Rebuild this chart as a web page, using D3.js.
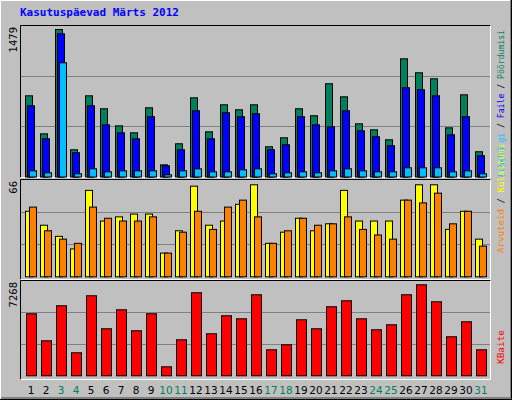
<!DOCTYPE html>
<html><head><meta charset="utf-8">
<script src="https://cdn.jsdelivr.net/npm/d3@7"></script>
<style>body{margin:0;background:#fff}</style></head>
<body><script>
const days = d3.range(1,32);
const weekend = [3,4,10,11,17,18,24,25,31];
const hits  = [814,433,1479,273,814,684,513,443,694,122,333,794,453,724,674,724,303,393,684,614,935,804,533,473,373,1185,1045,985,493,824,253];
const files = [714,383,1436,243,714,523,443,383,604,112,273,664,383,644,604,634,273,323,604,523,503,664,463,403,313,895,875,814,423,604,213];
const pages = [62,42,1145,32,82,52,62,62,62,22,62,82,52,52,72,82,32,42,52,42,62,82,62,52,52,92,92,92,52,62,32];
const visits= [47,37,29,20,62,40,43,45,45,17,33,65,37,40,52,66,24,32,42,33,38,62,40,40,40,55,66,66,34,47,27];
const sites = [50,33,27,24,50,42,40,40,43,17,32,47,34,50,55,43,24,33,42,37,38,43,34,30,27,55,53,60,38,47,22];
const kbytes= [4953,2796,5593,1838,6392,3755,5273,3595,4953,719,2876,6632,3356,4794,4554,6472,2077,2477,4474,3755,5513,5992,4554,3675,4075,6472,7268,5912,3116,4314,2077];
const maxLabels = ["1479","66","7268"];

const svg = d3.select("body").append("svg").attr("width",512).attr("height",400);
svg.append("rect").attr("width",512).attr("height",400).attr("fill","#C0C0C0");
svg.append("path").attr("d","M0.5,399.5V0.5H511.5").attr("stroke","#fff").attr("fill","none");
svg.append("path").attr("d","M1,398.5H511.5V0").attr("stroke","#808080").attr("fill","none").attr("stroke-width",3);
svg.append("path").attr("d","M0,399.5H511.5V0").attr("stroke","#000").attr("fill","none");

svg.append("text").attr("x",20).attr("y",16).text("Kasutuspäevad Märts 2012")
  .attr("font-family","DejaVu Sans Mono").attr("font-weight","bold").attr("font-size",11).attr("fill","#0000FF");

const x = d3.scaleLinear().domain([1,31]).range([25,475]);

const panels = [
  {top:25.5,bot:177.5,base:176.5,maxY:29,max:1479},
  {top:179.5,bot:279.5,base:276.3,maxY:184.3,max:66},
  {top:280.5,bot:379.5,base:375.3,maxY:284.3,max:7268}
];
panels.forEach((p,i)=>{
  const g = svg.append("g");
  const h = p.base - p.top;
  [1,2].forEach(k=>{
    const yy = Math.round(p.base - h*k/3)+0.5;
    g.append("line").attr("x1",21).attr("x2",490).attr("y1",yy).attr("y2",yy).attr("stroke","#808080");
  });
  g.append("path").attr("d",`M20.5,${p.bot}V${p.top}H490.5`).attr("stroke","#000").attr("fill","none");
  g.append("path").attr("d",`M20.5,${p.bot}H490.5V${p.top}`).attr("stroke","#fff").attr("fill","none");
  p.y = d3.scaleLinear().domain([0,p.max]).range([p.base,p.maxY]);
  svg.append("text").attr("transform",`translate(17,${p.top+1.5}) rotate(-90)`).attr("text-anchor","end")
    .attr("font-family","DejaVu Sans").attr("font-size",10).attr("fill","#000").text(maxLabels[i]);
});

function bars(p, data, off, w, color){
  svg.append("g").selectAll("rect").data(data).join("rect")
    .attr("x",(d,i)=>x(i+1)+off+0.5).attr("width",w)
    .attr("y",d=>p.y(d)+0.5).attr("height",d=>Math.max(0,p.base-p.y(d)))
    .attr("fill",color).attr("stroke","#000").attr("stroke-width",1);
}
bars(panels[0],hits,0,7,"#00805C");
bars(panels[0],files,2,7,"#0000FF");
bars(panels[0],pages,4,7,"#00C0FF");
bars(panels[1],visits,0,7,"#FFFF00");
bars(panels[1],sites,4,7,"#FF8000");
bars(panels[2],kbytes,1,10,"#FF0000");

svg.append("g").selectAll("text").data(days).join("text")
  .attr("x",d=>x(d)+6).attr("y",394).attr("text-anchor","middle")
  .attr("font-family","DejaVu Sans").attr("font-size",10.5)
  .attr("fill",d=>weekend.includes(d)?"#00805C":"#000").text(d=>d);

function rlabel(yStart, len, parts){
  const t = svg.append("text").attr("transform",`translate(504,${yStart}) rotate(-90)`)
    .attr("font-family","DejaVu Sans Mono").attr("font-size",9.5)
    .attr("textLength",len).attr("lengthAdjust","spacingAndGlyphs");
  parts.forEach(([s,c])=>t.append("tspan").attr("fill",c).text(s));
}
rlabel(177,147,[["Lehekülgi","#00C0FF"],[" / ","#000"],["Faile","#0000FF"],[" / ","#000"],["Pöördumisi","#00805C"]]);
rlabel(253,110,[["Arvuteid","#FF8000"],[" / ","#000"],["Külastusi","#FFFF00"]]);
rlabel(364,34,[["KBaite","#FF0000"]]);
</script></body></html>
